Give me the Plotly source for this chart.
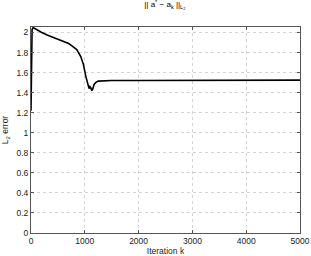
import plotly.graph_objects as go

iterations = [0, 5, 10, 20, 40, 100, 200, 300, 415, 500, 600, 700, 755, 850, 925, 975, 1020, 1055,
              1080, 1095, 1110, 1130, 1150, 1170, 1200, 1250, 1350, 1500, 2000, 3000, 4000, 5000]
l2_error = [1.22, 1.6, 1.9, 2.03, 2.05, 2.03, 2.0, 1.975, 1.95, 1.93, 1.91, 1.89, 1.87, 1.83, 1.76, 1.68,
            1.56, 1.47, 1.44, 1.46, 1.45, 1.42, 1.44, 1.48, 1.50, 1.515, 1.52, 1.521, 1.522, 1.524, 1.525, 1.525]

x_ticks = [0, 1000, 2000, 3000, 4000, 5000]
y_ticks = [0, 0.2, 0.4, 0.6, 0.8, 1, 1.2, 1.4, 1.6, 1.8, 2]
y_tick_labels = ["0", "0.2", "0.4", "0.6", "0.8", "1", "1.2", "1.4", "1.6", "1.8", "2"]

fig = go.Figure()
fig.add_trace(go.Scatter(x=iterations, y=l2_error, mode="lines",
                         line=dict(color="black", width=1.6), showlegend=False))

font = dict(family="Liberation Sans, Arial, sans-serif", size=8.5, color="#222222")
axis_common = dict(showline=True, linecolor="#555555", linewidth=1, mirror="ticks",
                   ticks="inside", ticklen=3, tickcolor="#555555",
                   showgrid=True, gridcolor="#d4d4d4", griddash="dot", gridwidth=1,
                   zeroline=False, tickfont=font, automargin=False)

fig.update_layout(
    width=311, height=256,
    margin=dict(l=31, r=11, t=27, b=23),
    paper_bgcolor="white", plot_bgcolor="white",
    font=font,
    title=dict(text="|| a<sup>*</sup> − a<sub>k</sub> ||<sub>L<sub>2</sub></sub>",
               x=0.53, xanchor="center", y=0.995, yanchor="top",
               font=dict(family="Liberation Sans, Arial, sans-serif", size=8, color="#000000")),
    xaxis=dict(range=[0, 5000], tickvals=x_ticks, title=dict(text="Iteration k", standoff=2,
               font=dict(size=8.5, color="#222222")), **axis_common),
    yaxis=dict(range=[0, 2.055], tickvals=y_ticks, ticktext=y_tick_labels,
               title=dict(text="L<sub>2</sub> error", standoff=10, font=dict(size=8.5, color="#222222")),
               **axis_common),
)

fig.write_html("out.html", config={"displayModeBar": False},
               post_script="document.body.style.margin='0';document.body.style.overflow='hidden';")
